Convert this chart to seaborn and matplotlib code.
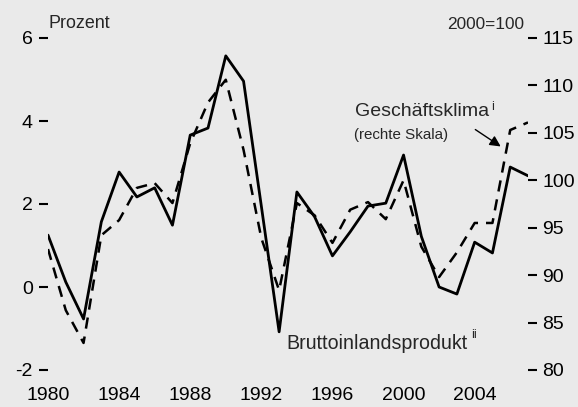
import matplotlib
matplotlib.use("Agg")
import matplotlib.pyplot as plt
import seaborn as sns
import pandas as pd

years = list(range(1980, 2008))
gdp = [1.25, 0.12, -0.77, 1.57, 2.77, 2.17, 2.39, 1.49, 3.66, 3.83, 5.57, 4.96,
       1.95, -1.08, 2.29, 1.69, 0.75, 1.33, 1.95, 2.02, 3.18, 1.22, 0.0, -0.17,
       1.08, 0.82, 2.89, 2.68]
klima = [92.75, 86.3, 82.85, 94.2, 95.8, 99.2, 99.7, 97.6, 103.9, 108.2, 110.6, 103.2,
         93.9, 88.4, 97.6, 96.3, 93.4, 96.9, 97.7, 95.9, 100.0, 93.0, 89.8, 92.4,
         95.5, 95.5, 105.3, 106.1]
x_ticks = [1980, 1984, 1988, 1992, 1996, 2000, 2004]
left_ticks = [-2, 0, 2, 4, 6]
right_ticks = [80, 85, 90, 95, 100, 105, 110, 115]

df = pd.DataFrame({"Jahr": years, "BIP": gdp, "Klima": klima})

sns.set_style("white")
FONT = ["Liberation Sans", "DejaVu Sans"]
plt.rcParams["font.family"] = FONT
plt.rcParams["axes.unicode_minus"] = False
BG = "#eaeaea"

W, H = 578, 407
fig = plt.figure(figsize=(W / 100, H / 100), dpi=100, facecolor=BG)
ax = fig.add_axes([48 / W, 1 - 370 / H, (528 - 48) / W, (370 - 38) / H])
ax.set_facecolor(BG)
ax2 = ax.twinx()

sns.lineplot(data=df, x="Jahr", y="BIP", ax=ax, color="black", lw=2.0, zorder=3)
sns.lineplot(data=df, x="Jahr", y="Klima", ax=ax2, color="black", lw=1.8,
             dashes=False, zorder=2)
ax2.lines[0].set_dashes([4.5, 3.2])

ax.set_xlim(1980, 2007)
ax.set_ylim(-2, 6)
ax2.set_ylim(80, 115)
ax.set_xticks(x_ticks)
ax.set_yticks(left_ticks)
ax2.set_yticks(right_ticks)
ax.set_xlabel("")
ax.set_ylabel("")
ax2.set_ylabel("")

for a in (ax, ax2):
    for s in a.spines.values():
        s.set_visible(False)
ax.tick_params(axis="both", direction="out", length=6.5, width=1.5, labelsize=14,
               pad=4.5, colors="black")
ax.tick_params(axis="x", pad=5.5)
ax2.tick_params(axis="y", direction="out", length=6.5, width=1.5, labelsize=14,
                pad=4, colors="black", right=True)

def fx(px):
    return px / W

def fy(py):
    return 1 - py / H

fig.text(fx(48), fy(28), "Prozent", fontsize=12.9, va="baseline", ha="left")
fig.text(fx(524), fy(29), "2000=100", fontsize=12.4, va="baseline", ha="right")
fig.text(fx(355), fy(116), "Geschäftsklima", fontsize=14, va="baseline", ha="left")
fig.text(fx(491), fy(110), "i", fontsize=9, va="baseline", ha="left")
fig.text(fx(354), fy(139), "(rechte Skala)", fontsize=10.9, va="baseline", ha="left")
fig.text(fx(286), fy(349), "Bruttoinlandsprodukt", fontsize=14.1, va="baseline", ha="left")
fig.text(fx(471), fy(338), "ii", fontsize=9, va="baseline", ha="left")

fig.patches.append(matplotlib.patches.FancyArrowPatch(
    (fx(473), fy(128)), (fx(503), fy(148)), transform=fig.transFigure,
    arrowstyle="-|>", mutation_scale=16, lw=1.0, color="black"))

fig.savefig("out.png", dpi=100, facecolor=BG)
